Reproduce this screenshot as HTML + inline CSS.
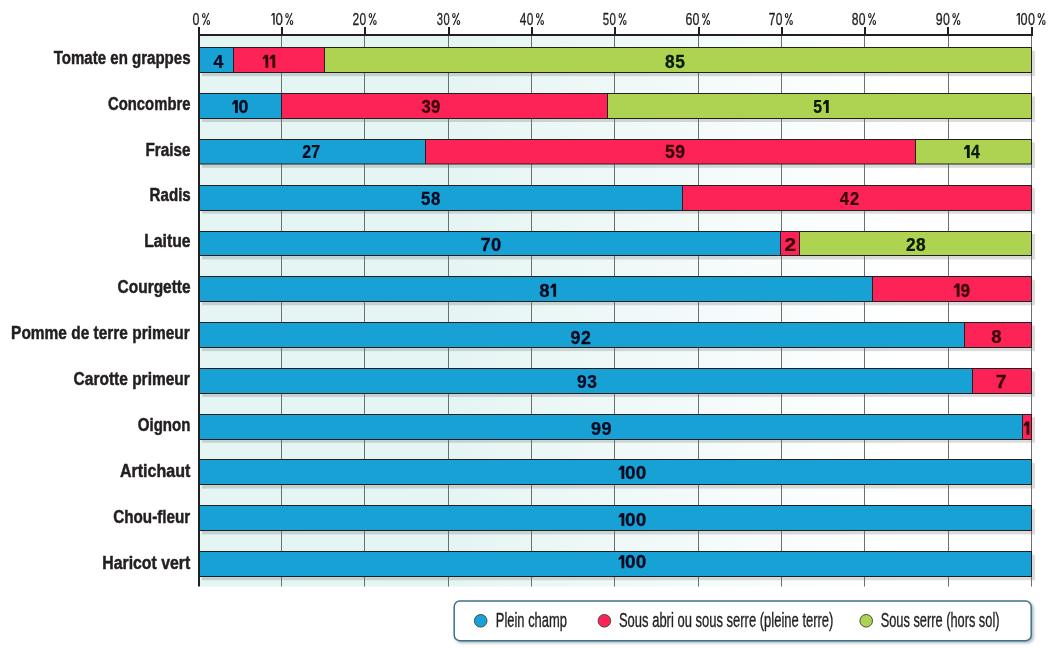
<!DOCTYPE html>
<html><head><meta charset="utf-8"><title>chart</title>
<style>html,body{margin:0;padding:0;background:#fff}svg{display:block;will-change:transform;font-family:"Liberation Sans",sans-serif}</style>
</head><body>
<svg width="1053" height="649" viewBox="0 0 1053 649">
<defs><linearGradient id="bg" x1="0" x2="1" y1="0" y2="0"><stop offset="0" stop-color="#e4f5f3"/><stop offset="0.3" stop-color="#e5f5f3"/><stop offset="0.85" stop-color="#ffffff"/></linearGradient><filter id="ls" x="-5%" y="-20%" width="110%" height="150%"><feGaussianBlur stdDeviation="1.6"/></filter></defs>
<rect x="200" y="36" width="831" height="550.5" fill="url(#bg)"/>
<rect x="202" y="50.70" width="833" height="25.5" fill="#000" fill-opacity="0.14"/>
<rect x="202" y="96.52" width="833" height="25.5" fill="#000" fill-opacity="0.14"/>
<rect x="202" y="142.34" width="833" height="25.5" fill="#000" fill-opacity="0.14"/>
<rect x="202" y="188.16" width="833" height="25.5" fill="#000" fill-opacity="0.14"/>
<rect x="202" y="233.98" width="833" height="25.5" fill="#000" fill-opacity="0.14"/>
<rect x="202" y="279.80" width="833" height="25.5" fill="#000" fill-opacity="0.14"/>
<rect x="202" y="325.62" width="833" height="25.5" fill="#000" fill-opacity="0.14"/>
<rect x="202" y="371.44" width="833" height="25.5" fill="#000" fill-opacity="0.14"/>
<rect x="202" y="417.26" width="833" height="25.5" fill="#000" fill-opacity="0.14"/>
<rect x="202" y="463.08" width="833" height="25.5" fill="#000" fill-opacity="0.14"/>
<rect x="202" y="508.90" width="833" height="25.5" fill="#000" fill-opacity="0.14"/>
<rect x="202" y="554.72" width="833" height="25.5" fill="#000" fill-opacity="0.14"/>
<rect x="281" y="36" width="1" height="550.5" fill="#6d6f71"/>
<rect x="364" y="36" width="1" height="550.5" fill="#6d6f71"/>
<rect x="448" y="36" width="1" height="550.5" fill="#6d6f71"/>
<rect x="531" y="36" width="1" height="550.5" fill="#6d6f71"/>
<rect x="614" y="36" width="1" height="550.5" fill="#6d6f71"/>
<rect x="698" y="36" width="1" height="550.5" fill="#6d6f71"/>
<rect x="781" y="36" width="1" height="550.5" fill="#6d6f71"/>
<rect x="864" y="36" width="1" height="550.5" fill="#6d6f71"/>
<rect x="948" y="36" width="1" height="550.5" fill="#6d6f71"/>
<rect x="1031" y="36" width="1" height="550.5" fill="#6d6f71"/>
<rect x="200" y="47" width="832" height="26" fill="#231f20"/>
<rect x="200" y="48" width="33" height="24" fill="#18a1d4"/>
<rect x="234" y="48" width="90" height="24" fill="#fe2356"/>
<rect x="325" y="48" width="706" height="24" fill="#add350"/>
<rect x="200" y="93" width="832" height="26" fill="#231f20"/>
<rect x="200" y="94" width="81" height="24" fill="#18a1d4"/>
<rect x="282" y="94" width="325" height="24" fill="#fe2356"/>
<rect x="608" y="94" width="423" height="24" fill="#add350"/>
<rect x="200" y="139" width="832" height="25.5" fill="#231f20"/>
<rect x="200" y="140" width="225" height="23.5" fill="#18a1d4"/>
<rect x="426" y="140" width="489" height="23.5" fill="#fe2356"/>
<rect x="916" y="140" width="115" height="23.5" fill="#add350"/>
<rect x="200" y="185" width="832" height="26" fill="#231f20"/>
<rect x="200" y="186" width="482" height="24" fill="#18a1d4"/>
<rect x="683" y="186" width="348" height="24" fill="#fe2356"/>
<rect x="200" y="231" width="832" height="25" fill="#231f20"/>
<rect x="200" y="232" width="580" height="23" fill="#18a1d4"/>
<rect x="781" y="232" width="18" height="23" fill="#fe2356"/>
<rect x="800" y="232" width="231" height="23" fill="#add350"/>
<rect x="200" y="276" width="832" height="26" fill="#231f20"/>
<rect x="200" y="277" width="672" height="24" fill="#18a1d4"/>
<rect x="873" y="277" width="158" height="24" fill="#fe2356"/>
<rect x="200" y="322" width="832" height="26" fill="#231f20"/>
<rect x="200" y="323" width="764" height="24" fill="#18a1d4"/>
<rect x="965" y="323" width="66" height="24" fill="#fe2356"/>
<rect x="200" y="368" width="832" height="26" fill="#231f20"/>
<rect x="200" y="369" width="772" height="24" fill="#18a1d4"/>
<rect x="973" y="369" width="58" height="24" fill="#fe2356"/>
<rect x="200" y="414" width="832" height="26" fill="#231f20"/>
<rect x="200" y="415" width="822" height="24" fill="#18a1d4"/>
<rect x="1023" y="415" width="8" height="24" fill="#fe2356"/>
<rect x="200" y="459" width="832" height="26" fill="#231f20"/>
<rect x="200" y="460" width="831" height="24" fill="#18a1d4"/>
<rect x="200" y="505" width="832" height="26" fill="#231f20"/>
<rect x="200" y="506" width="831" height="24" fill="#18a1d4"/>
<rect x="200" y="551" width="832" height="26" fill="#231f20"/>
<rect x="200" y="552" width="831" height="24" fill="#18a1d4"/>
<rect x="198" y="27" width="2" height="559.5" fill="#231f20"/>
<rect x="198" y="34" width="835" height="2" fill="#231f20"/>
<rect x="281" y="27" width="2" height="8" fill="#231f20"/>
<rect x="364" y="27" width="2" height="8" fill="#231f20"/>
<rect x="448" y="27" width="2" height="8" fill="#231f20"/>
<rect x="531" y="27" width="2" height="8" fill="#231f20"/>
<rect x="614" y="27" width="2" height="8" fill="#231f20"/>
<rect x="698" y="27" width="2" height="8" fill="#231f20"/>
<rect x="781" y="27" width="2" height="8" fill="#231f20"/>
<rect x="864" y="27" width="2" height="8" fill="#231f20"/>
<rect x="947" y="27" width="2" height="8" fill="#231f20"/>
<rect x="1031" y="27" width="2" height="8" fill="#231f20"/>
<text transform="translate(53.75 63.75) scale(0.7920 1)" font-size="19.0" font-weight="bold" fill="#231f20" stroke="#231f20" stroke-width="0.5" stroke-linejoin="round">Tomate en grappes</text>
<text transform="translate(108.00 109.65) scale(0.7819 1)" font-size="19.0" font-weight="bold" fill="#231f20" stroke="#231f20" stroke-width="0.5" stroke-linejoin="round">Concombre</text>
<text transform="translate(145.51 155.55) scale(0.8065 1)" font-size="19.0" font-weight="bold" fill="#231f20" stroke="#231f20" stroke-width="0.5" stroke-linejoin="round">Fraise</text>
<text transform="translate(149.62 201.45) scale(0.7951 1)" font-size="19.0" font-weight="bold" fill="#231f20" stroke="#231f20" stroke-width="0.5" stroke-linejoin="round">Radis</text>
<text transform="translate(144.18 247.35) scale(0.8304 1)" font-size="19.0" font-weight="bold" fill="#231f20" stroke="#231f20" stroke-width="0.5" stroke-linejoin="round">Laitue</text>
<text transform="translate(117.58 293.25) scale(0.8146 1)" font-size="19.0" font-weight="bold" fill="#231f20" stroke="#231f20" stroke-width="0.5" stroke-linejoin="round">Courgette</text>
<text transform="translate(11.10 339.15) scale(0.8142 1)" font-size="19.0" font-weight="bold" fill="#231f20" stroke="#231f20" stroke-width="0.5" stroke-linejoin="round">Pomme de terre primeur</text>
<text transform="translate(73.58 385.05) scale(0.8165 1)" font-size="19.0" font-weight="bold" fill="#231f20" stroke="#231f20" stroke-width="0.5" stroke-linejoin="round">Carotte primeur</text>
<text transform="translate(137.80 430.95) scale(0.7926 1)" font-size="19.0" font-weight="bold" fill="#231f20" stroke="#231f20" stroke-width="0.5" stroke-linejoin="round">Oignon</text>
<text transform="translate(119.91 476.85) scale(0.8443 1)" font-size="19.0" font-weight="bold" fill="#231f20" stroke="#231f20" stroke-width="0.5" stroke-linejoin="round">Artichaut</text>
<text transform="translate(113.19 522.75) scale(0.8031 1)" font-size="19.0" font-weight="bold" fill="#231f20" stroke="#231f20" stroke-width="0.5" stroke-linejoin="round">Chou-fleur</text>
<text transform="translate(102.28 568.65) scale(0.8335 1)" font-size="19.0" font-weight="bold" fill="#231f20" stroke="#231f20" stroke-width="0.5" stroke-linejoin="round">Haricot vert</text>
<text transform="translate(213.55 67.67) scale(0.9509 1)" font-size="18.6" font-weight="bold" fill="#060a20" stroke="#060a20" stroke-width="0.25" stroke-linejoin="round">4</text>
<path d="M268.25 67.80 L268.25 54.70 L265.05 54.70 L262.65 57.70 L262.65 59.50 L265.45 58.20 L265.45 67.80Z" fill="#36000a"/>
<path d="M275.25 67.80 L275.25 54.70 L272.05 54.70 L269.65 57.70 L269.65 59.50 L272.45 58.20 L272.45 67.80Z" fill="#36000a"/>
<text transform="translate(665.00 67.67) scale(0.9312 1)" font-size="18.6" font-weight="bold" fill="#0a1805" stroke="#0a1805" stroke-width="0.25" stroke-linejoin="round">8</text>
<text transform="translate(675.20 67.67) scale(0.9312 1)" font-size="18.6" font-weight="bold" fill="#0a1805" stroke="#0a1805" stroke-width="0.25" stroke-linejoin="round">5</text>
<path d="M237.80 113.10 L237.80 100.00 L234.60 100.00 L232.20 103.00 L232.20 104.80 L235.00 103.50 L235.00 113.10Z" fill="#060a20"/>
<text transform="translate(238.61 112.97) scale(0.9576 1)" font-size="18.6" font-weight="bold" fill="#060a20" stroke="#060a20" stroke-width="0.25" stroke-linejoin="round">0</text>
<text transform="translate(421.40 112.97) scale(0.8971 1)" font-size="18.6" font-weight="bold" fill="#36000a" stroke="#36000a" stroke-width="0.25" stroke-linejoin="round">3</text>
<text transform="translate(431.11 112.97) scale(0.8971 1)" font-size="18.6" font-weight="bold" fill="#36000a" stroke="#36000a" stroke-width="0.25" stroke-linejoin="round">9</text>
<text transform="translate(813.23 112.97) scale(0.8482 1)" font-size="18.6" font-weight="bold" fill="#0a1805" stroke="#0a1805" stroke-width="0.25" stroke-linejoin="round">5</text>
<path d="M828.70 113.10 L828.70 100.00 L825.50 100.00 L823.10 103.00 L823.10 104.80 L825.90 103.50 L825.90 113.10Z" fill="#0a1805"/>
<text transform="translate(302.15 157.97) scale(0.8597 1)" font-size="18.6" font-weight="bold" fill="#060a20" stroke="#060a20" stroke-width="0.25" stroke-linejoin="round">2</text>
<text transform="translate(311.36 157.97) scale(0.8597 1)" font-size="18.6" font-weight="bold" fill="#060a20" stroke="#060a20" stroke-width="0.25" stroke-linejoin="round">7</text>
<text transform="translate(664.99 157.97) scale(0.9404 1)" font-size="18.6" font-weight="bold" fill="#36000a" stroke="#36000a" stroke-width="0.25" stroke-linejoin="round">5</text>
<text transform="translate(675.29 157.97) scale(0.9404 1)" font-size="18.6" font-weight="bold" fill="#36000a" stroke="#36000a" stroke-width="0.25" stroke-linejoin="round">9</text>
<path d="M969.70 158.00 L969.70 144.90 L966.50 144.90 L964.10 147.90 L964.10 149.70 L966.90 148.40 L966.90 158.00Z" fill="#0a1805"/>
<text transform="translate(970.97 157.88) scale(0.8529 1)" font-size="18.6" font-weight="bold" fill="#0a1805" stroke="#0a1805" stroke-width="0.25" stroke-linejoin="round">4</text>
<text transform="translate(421.01 204.88) scale(0.8997 1)" font-size="18.6" font-weight="bold" fill="#060a20" stroke="#060a20" stroke-width="0.25" stroke-linejoin="round">5</text>
<text transform="translate(431.00 204.88) scale(0.8997 1)" font-size="18.6" font-weight="bold" fill="#060a20" stroke="#060a20" stroke-width="0.25" stroke-linejoin="round">8</text>
<text transform="translate(839.86 204.78) scale(0.8927 1)" font-size="18.6" font-weight="bold" fill="#36000a" stroke="#36000a" stroke-width="0.25" stroke-linejoin="round">4</text>
<text transform="translate(850.04 204.78) scale(0.8927 1)" font-size="18.6" font-weight="bold" fill="#36000a" stroke="#36000a" stroke-width="0.25" stroke-linejoin="round">2</text>
<text transform="translate(480.59 250.57) scale(0.9906 1)" font-size="18.6" font-weight="bold" fill="#060a20" stroke="#060a20" stroke-width="0.25" stroke-linejoin="round">7</text>
<text transform="translate(490.99 250.57) scale(0.9906 1)" font-size="18.6" font-weight="bold" fill="#060a20" stroke="#060a20" stroke-width="0.25" stroke-linejoin="round">0</text>
<text transform="translate(784.41 250.57) scale(1.1222 1)" font-size="18.6" font-weight="bold" fill="#36000a" stroke="#36000a" stroke-width="0.25" stroke-linejoin="round">2</text>
<text transform="translate(906.11 250.57) scale(0.9284 1)" font-size="18.6" font-weight="bold" fill="#0a1805" stroke="#0a1805" stroke-width="0.25" stroke-linejoin="round">2</text>
<text transform="translate(916.12 250.57) scale(0.9284 1)" font-size="18.6" font-weight="bold" fill="#0a1805" stroke="#0a1805" stroke-width="0.25" stroke-linejoin="round">8</text>
<text transform="translate(539.17 296.68) scale(1.0045 1)" font-size="18.6" font-weight="bold" fill="#060a20" stroke="#060a20" stroke-width="0.25" stroke-linejoin="round">8</text>
<path d="M556.10 296.80 L556.10 283.70 L552.90 283.70 L550.50 286.70 L550.50 288.50 L553.30 287.20 L553.30 296.80Z" fill="#060a20"/>
<path d="M959.50 296.70 L959.50 283.60 L956.30 283.60 L953.90 286.60 L953.90 288.40 L956.70 287.10 L956.70 296.70Z" fill="#36000a"/>
<text transform="translate(960.41 296.57) scale(0.9276 1)" font-size="18.6" font-weight="bold" fill="#36000a" stroke="#36000a" stroke-width="0.25" stroke-linejoin="round">9</text>
<text transform="translate(570.60 343.68) scale(0.9594 1)" font-size="18.6" font-weight="bold" fill="#060a20" stroke="#060a20" stroke-width="0.25" stroke-linejoin="round">9</text>
<text transform="translate(580.89 343.68) scale(0.9594 1)" font-size="18.6" font-weight="bold" fill="#060a20" stroke="#060a20" stroke-width="0.25" stroke-linejoin="round">2</text>
<text transform="translate(991.27 343.48) scale(0.9940 1)" font-size="18.6" font-weight="bold" fill="#36000a" stroke="#36000a" stroke-width="0.25" stroke-linejoin="round">8</text>
<text transform="translate(576.91 387.57) scale(0.9398 1)" font-size="18.6" font-weight="bold" fill="#060a20" stroke="#060a20" stroke-width="0.25" stroke-linejoin="round">9</text>
<text transform="translate(587.19 387.57) scale(0.9398 1)" font-size="18.6" font-weight="bold" fill="#060a20" stroke="#060a20" stroke-width="0.25" stroke-linejoin="round">3</text>
<text transform="translate(995.75 387.68) scale(1.0457 1)" font-size="18.6" font-weight="bold" fill="#36000a" stroke="#36000a" stroke-width="0.25" stroke-linejoin="round">7</text>
<text transform="translate(591.09 434.57) scale(0.9708 1)" font-size="18.6" font-weight="bold" fill="#060a20" stroke="#060a20" stroke-width="0.25" stroke-linejoin="round">9</text>
<text transform="translate(601.49 434.57) scale(0.9708 1)" font-size="18.6" font-weight="bold" fill="#060a20" stroke="#060a20" stroke-width="0.25" stroke-linejoin="round">9</text>
<path d="M1029.35 434.70 L1029.35 421.60 L1026.15 421.60 L1023.75 424.60 L1023.75 426.40 L1026.55 425.10 L1026.55 434.70Z" fill="#36000a"/>
<path d="M624.30 478.90 L624.30 465.80 L621.10 465.80 L618.70 468.80 L618.70 470.60 L621.50 469.30 L621.50 478.90Z" fill="#060a20"/>
<text transform="translate(625.07 478.77) scale(1.0237 1)" font-size="18.6" font-weight="bold" fill="#060a20" stroke="#060a20" stroke-width="0.25" stroke-linejoin="round">0</text>
<text transform="translate(635.77 478.77) scale(1.0237 1)" font-size="18.6" font-weight="bold" fill="#060a20" stroke="#060a20" stroke-width="0.25" stroke-linejoin="round">0</text>
<path d="M624.30 526.10 L624.30 513.00 L621.10 513.00 L618.70 516.00 L618.70 517.80 L621.50 516.50 L621.50 526.10Z" fill="#060a20"/>
<text transform="translate(625.07 525.98) scale(1.0237 1)" font-size="18.6" font-weight="bold" fill="#060a20" stroke="#060a20" stroke-width="0.25" stroke-linejoin="round">0</text>
<text transform="translate(635.77 525.98) scale(1.0237 1)" font-size="18.6" font-weight="bold" fill="#060a20" stroke="#060a20" stroke-width="0.25" stroke-linejoin="round">0</text>
<path d="M624.30 568.30 L624.30 555.20 L621.10 555.20 L618.70 558.20 L618.70 560.00 L621.50 558.70 L621.50 568.30Z" fill="#060a20"/>
<text transform="translate(625.07 568.17) scale(1.0237 1)" font-size="18.6" font-weight="bold" fill="#060a20" stroke="#060a20" stroke-width="0.25" stroke-linejoin="round">0</text>
<text transform="translate(635.77 568.17) scale(1.0237 1)" font-size="18.6" font-weight="bold" fill="#060a20" stroke="#060a20" stroke-width="0.25" stroke-linejoin="round">0</text>
<text transform="translate(192.62 24.65) scale(0.7543 1)" font-size="16.5" font-weight="normal" fill="#231f20" stroke="#231f20" stroke-width="0.3" stroke-linejoin="round">0</text>
<ellipse cx="203.80" cy="15.40" rx="1.25" ry="1.95" fill="none" stroke="#231f20" stroke-width="1.1"/>
<ellipse cx="208.30" cy="22.40" rx="1.25" ry="1.95" fill="none" stroke="#231f20" stroke-width="1.1"/>
<path d="M208.75 12.90L203.35 24.90" fill="none" stroke="#231f20" stroke-width="1.1"/>
<path d="M274.70 24.80 L274.70 13.00 L272.85 13.00 L271.30 14.90 L271.30 16.20 L273.25 14.70 L273.25 24.80Z" fill="#231f20"/>
<text transform="translate(275.39 24.65) scale(0.8029 1)" font-size="16.5" font-weight="normal" fill="#231f20" stroke="#231f20" stroke-width="0.3" stroke-linejoin="round">0</text>
<ellipse cx="287.00" cy="15.40" rx="1.25" ry="1.95" fill="none" stroke="#231f20" stroke-width="1.1"/>
<ellipse cx="291.50" cy="22.40" rx="1.25" ry="1.95" fill="none" stroke="#231f20" stroke-width="1.1"/>
<path d="M291.95 12.90L286.55 24.90" fill="none" stroke="#231f20" stroke-width="1.1"/>
<text transform="translate(352.61 24.65) scale(0.7238 1)" font-size="16.5" font-weight="normal" fill="#231f20" stroke="#231f20" stroke-width="0.3" stroke-linejoin="round">2</text>
<text transform="translate(359.48 24.65) scale(0.7238 1)" font-size="16.5" font-weight="normal" fill="#231f20" stroke="#231f20" stroke-width="0.3" stroke-linejoin="round">0</text>
<ellipse cx="370.40" cy="15.40" rx="1.25" ry="1.95" fill="none" stroke="#231f20" stroke-width="1.1"/>
<ellipse cx="374.90" cy="22.40" rx="1.25" ry="1.95" fill="none" stroke="#231f20" stroke-width="1.1"/>
<path d="M375.35 12.90L369.95 24.90" fill="none" stroke="#231f20" stroke-width="1.1"/>
<text transform="translate(436.75 24.65) scale(0.6786 1)" font-size="16.5" font-weight="normal" fill="#231f20" stroke="#231f20" stroke-width="0.3" stroke-linejoin="round">3</text>
<text transform="translate(443.38 24.65) scale(0.6786 1)" font-size="16.5" font-weight="normal" fill="#231f20" stroke="#231f20" stroke-width="0.3" stroke-linejoin="round">0</text>
<ellipse cx="453.90" cy="15.40" rx="1.25" ry="1.95" fill="none" stroke="#231f20" stroke-width="1.1"/>
<ellipse cx="458.40" cy="22.40" rx="1.25" ry="1.95" fill="none" stroke="#231f20" stroke-width="1.1"/>
<path d="M458.85 12.90L453.45 24.90" fill="none" stroke="#231f20" stroke-width="1.1"/>
<text transform="translate(519.67 24.65) scale(0.7239 1)" font-size="16.5" font-weight="normal" fill="#231f20" stroke="#231f20" stroke-width="0.3" stroke-linejoin="round">4</text>
<text transform="translate(526.78 24.65) scale(0.7239 1)" font-size="16.5" font-weight="normal" fill="#231f20" stroke="#231f20" stroke-width="0.3" stroke-linejoin="round">0</text>
<ellipse cx="537.70" cy="15.40" rx="1.25" ry="1.95" fill="none" stroke="#231f20" stroke-width="1.1"/>
<ellipse cx="542.20" cy="22.40" rx="1.25" ry="1.95" fill="none" stroke="#231f20" stroke-width="1.1"/>
<path d="M542.65 12.90L537.25 24.90" fill="none" stroke="#231f20" stroke-width="1.1"/>
<text transform="translate(602.84 24.65) scale(0.6969 1)" font-size="16.5" font-weight="normal" fill="#231f20" stroke="#231f20" stroke-width="0.3" stroke-linejoin="round">5</text>
<text transform="translate(609.62 24.65) scale(0.6969 1)" font-size="16.5" font-weight="normal" fill="#231f20" stroke="#231f20" stroke-width="0.3" stroke-linejoin="round">0</text>
<ellipse cx="620.30" cy="15.40" rx="1.25" ry="1.95" fill="none" stroke="#231f20" stroke-width="1.1"/>
<ellipse cx="624.80" cy="22.40" rx="1.25" ry="1.95" fill="none" stroke="#231f20" stroke-width="1.1"/>
<path d="M625.25 12.90L619.85 24.90" fill="none" stroke="#231f20" stroke-width="1.1"/>
<text transform="translate(685.39 24.65) scale(0.7534 1)" font-size="16.5" font-weight="normal" fill="#231f20" stroke="#231f20" stroke-width="0.3" stroke-linejoin="round">6</text>
<text transform="translate(692.62 24.65) scale(0.7534 1)" font-size="16.5" font-weight="normal" fill="#231f20" stroke="#231f20" stroke-width="0.3" stroke-linejoin="round">0</text>
<ellipse cx="703.80" cy="15.40" rx="1.25" ry="1.95" fill="none" stroke="#231f20" stroke-width="1.1"/>
<ellipse cx="708.30" cy="22.40" rx="1.25" ry="1.95" fill="none" stroke="#231f20" stroke-width="1.1"/>
<path d="M708.75 12.90L703.35 24.90" fill="none" stroke="#231f20" stroke-width="1.1"/>
<text transform="translate(768.71 24.65) scale(0.7300 1)" font-size="16.5" font-weight="normal" fill="#231f20" stroke="#231f20" stroke-width="0.3" stroke-linejoin="round">7</text>
<text transform="translate(775.63 24.65) scale(0.7300 1)" font-size="16.5" font-weight="normal" fill="#231f20" stroke="#231f20" stroke-width="0.3" stroke-linejoin="round">0</text>
<ellipse cx="786.60" cy="15.40" rx="1.25" ry="1.95" fill="none" stroke="#231f20" stroke-width="1.1"/>
<ellipse cx="791.10" cy="22.40" rx="1.25" ry="1.95" fill="none" stroke="#231f20" stroke-width="1.1"/>
<path d="M791.55 12.90L786.15 24.90" fill="none" stroke="#231f20" stroke-width="1.1"/>
<text transform="translate(851.66 24.65) scale(0.7373 1)" font-size="16.5" font-weight="normal" fill="#231f20" stroke="#231f20" stroke-width="0.3" stroke-linejoin="round">8</text>
<text transform="translate(858.76 24.65) scale(0.7373 1)" font-size="16.5" font-weight="normal" fill="#231f20" stroke="#231f20" stroke-width="0.3" stroke-linejoin="round">0</text>
<ellipse cx="869.80" cy="15.40" rx="1.25" ry="1.95" fill="none" stroke="#231f20" stroke-width="1.1"/>
<ellipse cx="874.30" cy="22.40" rx="1.25" ry="1.95" fill="none" stroke="#231f20" stroke-width="1.1"/>
<path d="M874.75 12.90L869.35 24.90" fill="none" stroke="#231f20" stroke-width="1.1"/>
<text transform="translate(935.75 24.65) scale(0.7534 1)" font-size="16.5" font-weight="normal" fill="#231f20" stroke="#231f20" stroke-width="0.3" stroke-linejoin="round">9</text>
<text transform="translate(942.92 24.65) scale(0.7534 1)" font-size="16.5" font-weight="normal" fill="#231f20" stroke="#231f20" stroke-width="0.3" stroke-linejoin="round">0</text>
<ellipse cx="954.10" cy="15.40" rx="1.25" ry="1.95" fill="none" stroke="#231f20" stroke-width="1.1"/>
<ellipse cx="958.60" cy="22.40" rx="1.25" ry="1.95" fill="none" stroke="#231f20" stroke-width="1.1"/>
<path d="M959.05 12.90L953.65 24.90" fill="none" stroke="#231f20" stroke-width="1.1"/>
<path d="M1019.90 24.80 L1019.90 13.00 L1018.05 13.00 L1016.50 14.90 L1016.50 16.20 L1018.45 14.70 L1018.45 24.80Z" fill="#231f20"/>
<text transform="translate(1020.61 24.65) scale(0.7664 1)" font-size="16.5" font-weight="normal" fill="#231f20" stroke="#231f20" stroke-width="0.3" stroke-linejoin="round">0</text>
<text transform="translate(1028.01 24.65) scale(0.7664 1)" font-size="16.5" font-weight="normal" fill="#231f20" stroke="#231f20" stroke-width="0.3" stroke-linejoin="round">0</text>
<ellipse cx="1039.30" cy="15.40" rx="1.25" ry="1.95" fill="none" stroke="#231f20" stroke-width="1.1"/>
<ellipse cx="1043.80" cy="22.40" rx="1.25" ry="1.95" fill="none" stroke="#231f20" stroke-width="1.1"/>
<path d="M1044.25 12.90L1038.85 24.90" fill="none" stroke="#231f20" stroke-width="1.1"/>
<rect x="455.5" y="602.5" width="578" height="40.5" rx="6" fill="#5c7480" fill-opacity="0.55" filter="url(#ls)"/>
<rect x="454.2" y="601.1" width="577" height="39.6" rx="5.5" fill="#fff" stroke="#3e7286" stroke-width="1.5"/>
<circle cx="480.7" cy="620.8" r="6.3" fill="#18a1d4" stroke="#4a4a4a" stroke-width="1"/>
<circle cx="604.4" cy="620.8" r="6.3" fill="#fe2356" stroke="#4a4a4a" stroke-width="1"/>
<circle cx="866.2" cy="620.8" r="6.3" fill="#add350" stroke="#4a4a4a" stroke-width="1"/>
<text transform="translate(495.78 626.93) scale(0.6709 1)" font-size="19.3" font-weight="normal" fill="#231f20" stroke="#231f20" stroke-width="0.35" stroke-linejoin="round">Plein champ</text>
<text transform="translate(618.93 626.93) scale(0.6741 1)" font-size="19.3" font-weight="normal" fill="#231f20" stroke="#231f20" stroke-width="0.35" stroke-linejoin="round">Sous abri ou sous serre (pleine terre)</text>
<text transform="translate(880.64 626.93) scale(0.6639 1)" font-size="19.3" font-weight="normal" fill="#231f20" stroke="#231f20" stroke-width="0.35" stroke-linejoin="round">Sous serre (hors sol)</text>
</svg>
</body></html>
